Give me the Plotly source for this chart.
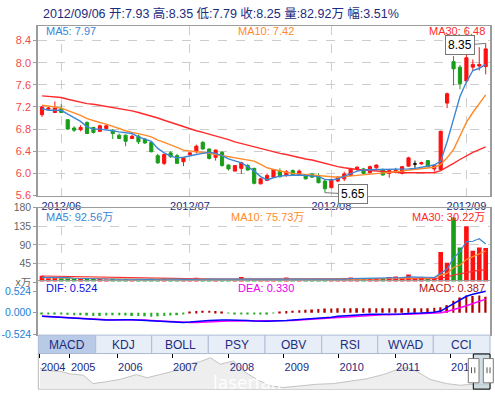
import plotly.graph_objects as go

W, H = 495, 399
def px(v):
    return v / W
def py(v):
    return 1 - v / H

# ---------------- data ----------------
month_labels = ["2012/06", "2012/07", "2012/08", "2012/09"]
month_idx = [3, 23, 45, 66]

opens = [7.06, 7.16, 7.10, 7.17, 6.97, 6.82, 6.79, 6.92, 6.83, 6.76,
         6.81, 6.77, 6.69, 6.69, 6.63, 6.67, 6.62, 6.56, 6.32, 6.18,
         6.37, 6.32, 6.21, 6.34, 6.39, 6.56, 6.44, 6.29, 6.38, 6.15,
         6.04, 6.09, 6.14, 6.09, 5.81, 5.87, 5.93, 6.04, 5.97, 6.05,
         5.97, 5.95, 5.99, 5.96, 5.86, 5.74, 5.86, 5.90, 5.96, 6.07,
         6.08, 6.01, 6.10, 6.07, 6.00, 6.04, 6.00, 6.13, 6.17, 6.17,
         6.23, 6.08, 6.07, 7.27, 8.02, 7.92, 7.67, 7.92, 7.94, 7.93]
highs = [7.21, 7.20, 7.30, 7.25, 6.97, 6.85, 6.87, 6.94, 6.84, 6.88,
         6.88, 6.80, 6.72, 6.70, 6.70, 6.70, 6.64, 6.57, 6.35, 6.36,
         6.40, 6.35, 6.29, 6.38, 6.52, 6.58, 6.45, 6.43, 6.40, 6.16,
         6.15, 6.21, 6.17, 6.10, 5.92, 6.00, 6.08, 6.09, 6.06, 6.07,
         6.07, 5.97, 6.00, 6.00, 5.88, 5.90, 5.95, 6.03, 6.10, 6.13,
         6.10, 6.14, 6.16, 6.09, 6.06, 6.10, 6.13, 6.30, 6.23, 6.21,
         6.24, 6.16, 6.77, 7.46, 8.12, 7.96, 8.33, 8.06, 8.28, 8.35]
lows = [7.02, 7.15, 7.09, 7.09, 6.79, 6.75, 6.76, 6.71, 6.72, 6.75,
        6.79, 6.62, 6.62, 6.49, 6.62, 6.53, 6.53, 6.38, 6.17, 6.15,
        6.28, 6.17, 6.13, 6.32, 6.36, 6.43, 6.25, 6.23, 6.12, 6.05,
        6.04, 5.99, 6.05, 5.80, 5.80, 5.86, 5.92, 5.92, 5.94, 5.96,
        5.96, 5.89, 5.92, 5.82, 5.65, 5.73, 5.84, 5.86, 5.95, 6.04,
        5.99, 6.00, 6.08, 5.96, 5.92, 6.00, 5.98, 6.12, 6.10, 6.16,
        6.11, 6.03, 6.05, 7.18, 7.59, 7.52, 7.65, 7.85, 7.86, 7.79]
closes = [7.20, 7.18, 7.18, 7.10, 6.80, 6.78, 6.83, 6.72, 6.74, 6.86,
          6.86, 6.72, 6.63, 6.58, 6.67, 6.57, 6.55, 6.39, 6.19, 6.34,
          6.30, 6.18, 6.28, 6.37, 6.49, 6.44, 6.27, 6.42, 6.14, 6.08,
          6.14, 6.19, 6.06, 5.82, 5.90, 5.96, 6.07, 5.94, 6.03, 5.98,
          6.04, 5.90, 5.93, 5.83, 5.72, 5.89, 5.93, 5.99, 6.08, 6.11,
          6.00, 6.12, 6.15, 5.97, 6.05, 6.05, 6.12, 6.28, 6.17, 6.19,
          6.12, 6.14, 6.76, 7.44, 7.89, 7.62, 8.09, 7.97, 7.97, 8.25]

ma5 = [7.17, 7.14, 7.14, 7.14, 7.07, 7.01, 6.94, 6.84, 6.80, 6.80,
       6.79, 6.77, 6.75, 6.74, 6.72, 6.66, 6.62, 6.58, 6.45, 6.37,
       6.31, 6.28, 6.29, 6.32, 6.34, 6.36, 6.38, 6.36, 6.32, 6.26,
       6.22, 6.19, 6.12, 6.04, 5.94, 5.88, 5.92, 5.95, 5.96, 5.97,
       5.97, 5.96, 5.95, 5.94, 5.89, 5.88, 5.90, 5.95, 6.00, 6.04,
       6.06, 6.07, 6.07, 6.07, 6.07, 6.07, 6.07, 6.08, 6.09, 6.11,
       6.13, 6.15, 6.22, 6.57, 6.98, 7.39, 7.65, 7.86, 7.90, 7.97]
ma10 = [7.23, 7.22, 7.20, 7.18, 7.14, 7.09, 7.05, 6.99, 6.95, 6.92,
        6.89, 6.85, 6.80, 6.77, 6.74, 6.72, 6.69, 6.66, 6.60, 6.56,
        6.52, 6.47, 6.42, 6.40, 6.39, 6.38, 6.36, 6.34, 6.32, 6.30,
        6.29, 6.27, 6.25, 6.22, 6.16, 6.10, 6.07, 6.04, 6.02, 6.00,
        5.99, 5.97, 5.96, 5.95, 5.94, 5.93, 5.93, 5.94, 5.95, 5.96,
        5.97, 5.98, 6.00, 6.01, 6.02, 6.03, 6.04, 6.06, 6.07, 6.09,
        6.10, 6.11, 6.16, 6.28, 6.43, 6.69, 6.92, 7.10, 7.27, 7.42]
ma30 = [7.40, 7.39, 7.38, 7.37, 7.34, 7.31, 7.28, 7.26, 7.25, 7.23,
        7.21, 7.20, 7.18, 7.16, 7.13, 7.10, 7.07, 7.04, 7.00, 6.96,
        6.92, 6.88, 6.84, 6.81, 6.77, 6.74, 6.71, 6.68, 6.64, 6.61,
        6.57, 6.54, 6.50, 6.47, 6.44, 6.42, 6.39, 6.36, 6.34, 6.31,
        6.29, 6.26, 6.24, 6.21, 6.17, 6.14, 6.12, 6.10, 6.08, 6.07,
        6.06, 6.05, 6.04, 6.03, 6.02, 6.02, 6.01, 6.01, 6.01, 6.01,
        6.01, 6.01, 6.05, 6.11, 6.18, 6.25, 6.32, 6.38, 6.43, 6.48]

volumes = [16, 10, 11, 10, 10, 9, 8, 10, 8, 8,
           7, 8, 7, 8, 6, 7, 7, 9, 8, 10,
           6, 6, 7, 6, 11, 8, 7, 7, 8, 6,
           7, 13, 6, 7, 8, 7, 8, 6, 12, 6,
           6, 5, 8, 7, 8, 7, 8, 10, 12, 9,
           10, 10, 9, 9, 13, 14, 12, 19, 10, 13,
           8, 9, 73, 47.5, 156, 84, 135, 76, 84, 82.92]
vol_ma5 = [12.0, 12.0, 11.5, 11.4, 11.4, 10.0, 9.4, 9.4, 9.0, 8.6,
           8.2, 8.2, 7.6, 7.6, 7.2, 7.2, 7.0, 7.4, 7.6, 8.2,
           8.0, 7.8, 7.4, 7.0, 7.2, 7.6, 7.8, 7.8, 8.2, 7.2,
           7.2, 8.2, 8.0, 7.8, 8.2, 8.2, 7.6, 7.2, 8.2, 7.8,
           7.6, 7.0, 7.4, 6.4, 6.8, 7.4, 7.6, 8.0, 9.0, 9.2,
           9.8, 10.2, 10.0, 9.8, 10.2, 11.0, 11.4, 13.4, 13.6, 13.6,
           12.4, 11.8, 22.6, 32.0, 59.0, 74.0, 98.0, 99.0, 105.0, 92.56]
vol_ma10 = [11.5, 11.4, 11.3, 11.2, 11.0, 10.8, 10.5, 10.3, 10.0, 9.6,
            9.2, 8.8, 8.5, 8.3, 8.0, 7.7, 7.6, 7.6, 7.6, 7.8,
            7.6, 7.5, 7.5, 7.4, 7.6, 7.7, 7.7, 7.5, 7.6, 7.4,
            7.4, 7.9, 7.9, 7.5, 7.7, 7.7, 7.6, 7.6, 8.2, 8.0,
            7.9, 7.6, 7.5, 7.2, 7.6, 7.5, 7.3, 7.4, 7.8, 8.0,
            8.4, 8.8, 9.0, 9.4, 9.6, 10.3, 10.7, 11.6, 11.6, 11.9,
            11.3, 11.4, 17.6, 21.6, 36.0, 42.0, 55.0, 62.0, 68.0, 75.73]
vol_ma30 = [15.5, 15.2, 14.9, 14.6, 14.2, 13.8, 13.4, 13.0, 12.6, 12.2,
            11.8, 11.4, 11.0, 10.7, 10.4, 10.1, 9.8, 9.6, 9.4, 9.2,
            9.0, 8.8, 8.6, 8.4, 8.3, 8.2, 8.1, 8.0, 7.9, 7.9,
            7.8, 7.8, 7.8, 7.8, 7.8, 7.8, 7.8, 7.7, 7.7, 7.7,
            7.7, 7.7, 7.7, 7.7, 7.7, 7.7, 7.7, 7.8, 7.8, 7.9,
            7.9, 8.0, 8.1, 8.2, 8.3, 8.4, 8.5, 8.7, 8.8, 8.9,
            9.0, 9.0, 11.2, 12.7, 17.8, 20.5, 24.9, 27.2, 29.7, 30.22]

dif = [-0.09, -0.10, -0.11, -0.12, -0.13, -0.14, -0.15, -0.16, -0.17, -0.18,
       -0.18, -0.18, -0.17, -0.17, -0.17, -0.18, -0.19, -0.20, -0.21, -0.22,
       -0.23, -0.24, -0.24, -0.23, -0.21, -0.20, -0.19, -0.18, -0.18, -0.18,
       -0.18, -0.19, -0.19, -0.20, -0.21, -0.21, -0.20, -0.20, -0.19, -0.18,
       -0.17, -0.16, -0.15, -0.14, -0.13, -0.11, -0.09, -0.08, -0.06, -0.05,
       -0.05, -0.04, -0.04, -0.04, -0.03, -0.03, -0.03, -0.02, -0.02, -0.01,
       0.00, 0.01, 0.04, 0.13, 0.23, 0.31, 0.40, 0.45, 0.49, 0.524]
dea = [-0.09, -0.09, -0.10, -0.11, -0.12, -0.13, -0.14, -0.15, -0.16, -0.17,
       -0.17, -0.17, -0.17, -0.17, -0.17, -0.17, -0.18, -0.19, -0.20, -0.21,
       -0.22, -0.23, -0.24, -0.24, -0.24, -0.23, -0.22, -0.21, -0.20, -0.20,
       -0.20, -0.20, -0.20, -0.20, -0.20, -0.20, -0.20, -0.20, -0.20, -0.19,
       -0.18, -0.17, -0.16, -0.15, -0.14, -0.13, -0.12, -0.10, -0.09, -0.08,
       -0.07, -0.06, -0.06, -0.05, -0.05, -0.04, -0.04, -0.04, -0.03, -0.03,
       -0.02, -0.01, 0.00, 0.03, 0.07, 0.12, 0.17, 0.22, 0.28, 0.33]
macd_hist = [-0.02, -0.03, -0.04, -0.04, -0.05, -0.06, -0.06, -0.07, -0.08, -0.08,
             -0.07, -0.06, -0.06, -0.07, -0.08, -0.08, -0.09, -0.10, -0.09, -0.08,
             -0.07, -0.06, -0.04, 0.02, 0.04, 0.05, 0.05, 0.04, 0.03, -0.01,
             -0.02, -0.02, -0.03, -0.04, -0.04, -0.03, -0.01, 0.01, 0.04, 0.05,
             0.06, 0.07, 0.08, 0.09, 0.10, 0.10, 0.11, 0.11, 0.11, 0.11,
             0.11, 0.11, 0.11, 0.11, 0.11, 0.11, 0.11, 0.11, 0.11, 0.11,
             0.11, 0.12, 0.13, 0.18, 0.29, 0.37, 0.42, 0.41, 0.42, 0.387]

nav_years = [2004.61, 2004.79, 2004.97, 2005.15, 2005.39, 2005.57, 2005.81, 2006.05, 2006.35, 2006.54,
             2006.77, 2007.01, 2007.26, 2007.50, 2007.68, 2007.86, 2008.10, 2008.28, 2008.52, 2008.76,
             2009.00, 2009.30, 2009.60, 2009.90, 2010.20, 2010.50, 2010.80, 2011.04, 2011.22, 2011.40,
             2011.64, 2011.94, 2012.18, 2012.42, 2012.69]
nav_vals = [7.0, 6.2, 6.0, 5.2, 4.8, 2.2, 2.8, 3.5, 5.0, 4.0,
            5.0, 6.0, 8.2, 9.0, 10.2, 8.2, 9.2, 6.0, 3.5, 1.5,
            1.0, 1.5, 2.0, 2.2, 3.0, 3.7, 5.0, 6.5, 7.2, 6.0,
            3.5, 2.2, 1.7, 2.0, 2.0]
nav_tick_pos = [2004.61, 2005.15, 2006.0, 2006.99, 2008.01, 2009.0, 2009.99, 2011.01, 2012.0]
nav_tick_labels = ["2004", "2005", "2006", "2007", "2008", "2009", "2010", "2011", "2012"]

tab_names = ["MACD", "KDJ", "BOLL", "PSY", "OBV", "RSI", "WVAD", "CCI"]
price_ticks = [5.6, 6.0, 6.4, 6.8, 7.2, 7.6, 8.0, 8.4]
vol_ticks = [0, 45, 90, 135, 180]
vol_tick_text = ["x万", "45", "90", "135", "180"]
macd_ticks = [-0.524, 0.0, 0.524]
macd_tick_text = ["-0.524", "0.000", "0.524"]

title_text = "2012/09/06 开:7.93 高:8.35 低:7.79 收:8.25 量:82.92万 幅:3.51%"

# ---------------- styles ----------------
RED = "#ff1010"
GREEN = "#1a9e1a"
BLUE_MA = "#3c86d6"
ORANGE_MA = "#ff8a2a"
RED_MA = "#ff2a2a"
NAVY = "#1c2c80"
GRID = "#cdcdcd"
BORDER = "#9c9c9c"
FONT = "Liberation Sans, Noto Sans CJK SC, sans-serif"

idx = list(range(len(closes)))
up = [i for i in idx if closes[i] > opens[i]]
dn = [i for i in idx if closes[i] < opens[i]]
dj = [i for i in idx if closes[i] == opens[i]]

fig = go.Figure()

def candles(ids, color):
    return go.Candlestick(
        x=ids,
        open=[opens[i] for i in ids], high=[highs[i] for i in ids],
        low=[lows[i] for i in ids], close=[closes[i] for i in ids],
        increasing=dict(line=dict(color=color, width=1), fillcolor=color),
        decreasing=dict(line=dict(color=color, width=1), fillcolor=color),
        whiskerwidth=0, showlegend=False, hoverinfo="skip",
        xaxis="x", yaxis="y")

fig.add_trace(candles(up, RED))
fig.add_trace(candles(dn, GREEN))
fig.add_trace(candles(dj, "#000000"))

for arr, col in [(ma30, RED_MA), (ma10, ORANGE_MA), (ma5, BLUE_MA)]:
    fig.add_trace(go.Scatter(x=idx, y=arr, mode="lines", line=dict(color=col, width=1.4),
                             showlegend=False, hoverinfo="skip", xaxis="x", yaxis="y"))

# volume
vol_colors = [RED if closes[i] >= opens[i] else GREEN for i in idx]
fig.add_trace(go.Bar(x=idx, y=volumes, marker=dict(color=vol_colors, line=dict(width=0)),
                     width=0.72, showlegend=False, hoverinfo="skip", xaxis="x2", yaxis="y2"))
for arr, col in [(vol_ma30, RED_MA), (vol_ma10, ORANGE_MA), (vol_ma5, BLUE_MA)]:
    fig.add_trace(go.Scatter(x=idx, y=arr, mode="lines", line=dict(color=col, width=1.2),
                             showlegend=False, hoverinfo="skip", xaxis="x2", yaxis="y2"))

# MACD
hist_colors = ["#b00000" if v >= 0 else "#22aa22" for v in macd_hist]
fig.add_trace(go.Bar(x=idx, y=macd_hist, marker=dict(color=hist_colors, line=dict(width=0)),
                     width=0.26, showlegend=False, hoverinfo="skip", xaxis="x3", yaxis="y3"))
fig.add_trace(go.Scatter(x=idx, y=dea, mode="lines", line=dict(color="#ff00ff", width=1.5),
                         showlegend=False, hoverinfo="skip", xaxis="x3", yaxis="y3"))
fig.add_trace(go.Scatter(x=idx, y=dif, mode="lines", line=dict(color="#0000ff", width=1.5),
                         showlegend=False, hoverinfo="skip", xaxis="x3", yaxis="y3"))

# navigator
fig.add_trace(go.Scatter(x=nav_years, y=nav_vals, mode="lines", fill="tozeroy",
                         fillcolor="#eeeeee", line=dict(color="#c2c2c2", width=1),
                         showlegend=False, hoverinfo="skip", xaxis="x4", yaxis="y4"))

XDOM = [px(38.3), px(490)]
XR = [-0.575, 69.67]
common_x = dict(domain=XDOM, range=XR, tickvals=month_idx, ticktext=month_labels,
                gridcolor=GRID, griddash="dash", gridwidth=1, ticks="", zeroline=False,
                showline=True, mirror=True, linecolor=BORDER, linewidth=1, fixedrange=True,
                tickangle=0)
common_y = dict(showline=True, mirror=True, linecolor=BORDER, linewidth=2, zeroline=False,
                ticks="outside", ticklen=3, tickcolor="#999999", gridcolor=GRID,
                griddash="dash", gridwidth=1, fixedrange=True)

fig.update_layout(
    width=W, height=H, margin=dict(l=0, r=0, t=0, b=0),
    paper_bgcolor="white", plot_bgcolor="white",
    font=dict(family=FONT, size=11),
    showlegend=False, barmode="overlay", boxmode="overlay",
    xaxis=dict(**common_x, anchor="y", showgrid=True, showticklabels=True,
               tickfont=dict(size=11, color=NAVY), rangeslider=dict(visible=False)),
    xaxis2=dict(**common_x, anchor="y2", showgrid=True, showticklabels=False),
    xaxis3=dict(**common_x, anchor="y3", showgrid=False, showticklabels=False),
    yaxis=dict(**common_y, domain=[py(196), py(20.7)], range=[5.588, 8.663], anchor="x",
               tickvals=price_ticks, tickformat=".1f", showgrid=True,
               tickfont=dict(size=11, color="#f24a4a")),
    yaxis2=dict(**common_y, domain=[py(285), py(207.8)], range=[0, 180], anchor="x2",
                tickvals=vol_ticks, ticktext=vol_tick_text, showgrid=True,
                tickfont=dict(size=10.5, color="#666666")),
    yaxis3=dict(**common_y, domain=[py(339), py(284)], range=[-0.54, 0.762], anchor="x3",
                tickvals=macd_ticks, ticktext=macd_tick_text, showgrid=False,
                tickfont=dict(size=10.5, color="#1e80d8")),
    xaxis4=dict(domain=XDOM, range=[2004.58, 2012.72], anchor="y4", side="top",
                tickvals=nav_tick_pos, ticktext=nav_tick_labels, ticks="inside", ticklen=4,
                tickcolor="#000000", ticklabelposition="inside right", ticklabeloverflow="allow",
                tickangle=0, ticklabelstandoff=6,
                tickfont=dict(size=11, color=NAVY), showline=True, linecolor="#000000",
                linewidth=1, showgrid=False, zeroline=False, fixedrange=True),
    yaxis4=dict(domain=[py(395), py(358.3)], range=[0.5, 11.5], anchor="x4",
                showticklabels=False, showgrid=False, zeroline=False, showline=False,
                fixedrange=True),
)

shapes = []
# MACD zero line
shapes.append(dict(type="line", xref="paper", yref="y3", x0=XDOM[0], x1=XDOM[1], y0=0, y1=0,
                   line=dict(color=GRID, width=1, dash="dash"), layer="below"))
# tabs
tab_edges = [38.3, 95.7, 151.7, 208.3, 265.0, 321.7, 377.7, 433.3, 490.0]
annotations = []
for k, name in enumerate(tab_names):
    shapes.append(dict(type="rect", xref="paper", yref="paper",
                       x0=px(tab_edges[k]), x1=px(tab_edges[k + 1]), y0=py(358.3), y1=py(339.3),
                       fillcolor="#b9cae6" if k == 0 else "#e8eef7",
                       line=dict(color="#aebcd6", width=1), layer="above"))
    annotations.append(dict(x=px((tab_edges[k] + tab_edges[k + 1]) / 2), y=py(349),
                            xref="paper", yref="paper", text=name, showarrow=False,
                            font=dict(size=12, color=NAVY), xanchor="center", yanchor="middle"))
# navigator frame
shapes.append(dict(type="rect", xref="paper", yref="paper", x0=px(38.3), x1=px(490),
                   y0=py(395), y1=py(358.3), line=dict(color="#b8b8b8", width=1), layer="below"))
# selected range on navigator
shapes.append(dict(type="rect", xref="paper", yref="paper", x0=px(473.3), x1=px(490),
                   y0=py(395), y1=py(358.8), fillcolor="rgba(190,210,218,0.7)",
                   line=dict(color="#000000", width=1), layer="above"))
for hx0, hx1, l1, l2 in [(468.3, 479.0, 471.5, 474.8), (483.3, 493.3, 487.0, 490.0)]:
    shapes.append(dict(type="rect", xref="paper", yref="paper", x0=px(hx0), x1=px(hx1),
                       y0=py(388.5), y1=py(363.5), fillcolor="white",
                       line=dict(color="#7a7a7a", width=1), layer="above"))
    for lx in (l1, l2):
        shapes.append(dict(type="line", xref="paper", yref="paper", x0=px(lx), x1=px(lx),
                           y0=py(378.5), y1=py(372.5), line=dict(color="#555555", width=1),
                           layer="above"))

# headers
def hdr(x, y, text, color, anchor="left", size=11):
    return dict(x=px(x), y=py(y), xref="paper", yref="paper", text=text, showarrow=False,
                xanchor=anchor, yanchor="middle", font=dict(size=size, color=color))

annotations += [
    hdr(41, 7.5, title_text, NAVY, size=12.5),
    hdr(44, 26, "MA5: 7.97", BLUE_MA),
    hdr(236, 26, "MA10: 7.42", ORANGE_MA),
    hdr(487, 26, "MA30: 6.48", RED_MA, "right"),
    hdr(44, 217.5, "MA5: 92.56万", BLUE_MA),
    hdr(229, 217.5, "MA10: 75.73万", ORANGE_MA),
    hdr(487, 217.5, "MA30: 30.22万", RED_MA, "right"),
    hdr(44, 291, "DIF: 0.524", "#1010e0"),
    hdr(236, 291, "DEA: 0.330", "#ee00ee"),
    hdr(487, 291, "MACD: 0.387", "#b01818", "right"),
    dict(x=px(247), y=py(389), xref="paper", yref="paper", text="laserfan", showarrow=False,
         yanchor="middle", font=dict(size=17, color="rgba(255,255,255,0.95)", family="DejaVu Sans")),
]

# high / low markers
hi_i = highs.index(max(highs))
lo_i = lows.index(min(lows))
annotations.append(dict(x=hi_i, y=highs[hi_i], xref="x", yref="y", text=f"{highs[hi_i]:.2f}",
                        showarrow=True, arrowhead=0, arrowwidth=1, arrowcolor="#777777",
                        ax=-26, ay=2, standoff=0, bgcolor="white", bordercolor="#777777",
                        borderwidth=1, borderpad=2, font=dict(size=12, color="#000000")))
annotations.append(dict(x=lo_i, y=lows[lo_i], xref="x", yref="y", text=f"{lows[lo_i]:.2f}",
                        showarrow=True, arrowhead=0, arrowwidth=1, arrowcolor="#777777",
                        ax=28, ay=1.5, standoff=0, bgcolor="white", bordercolor="#777777",
                        borderwidth=1, borderpad=2, font=dict(size=12, color="#000000")))

fig.update_layout(shapes=shapes, annotations=annotations)
fig.write_html("out.html", config=dict(displayModeBar=False),
               post_script="document.body.style.margin='0';document.body.style.overflow='hidden';")
